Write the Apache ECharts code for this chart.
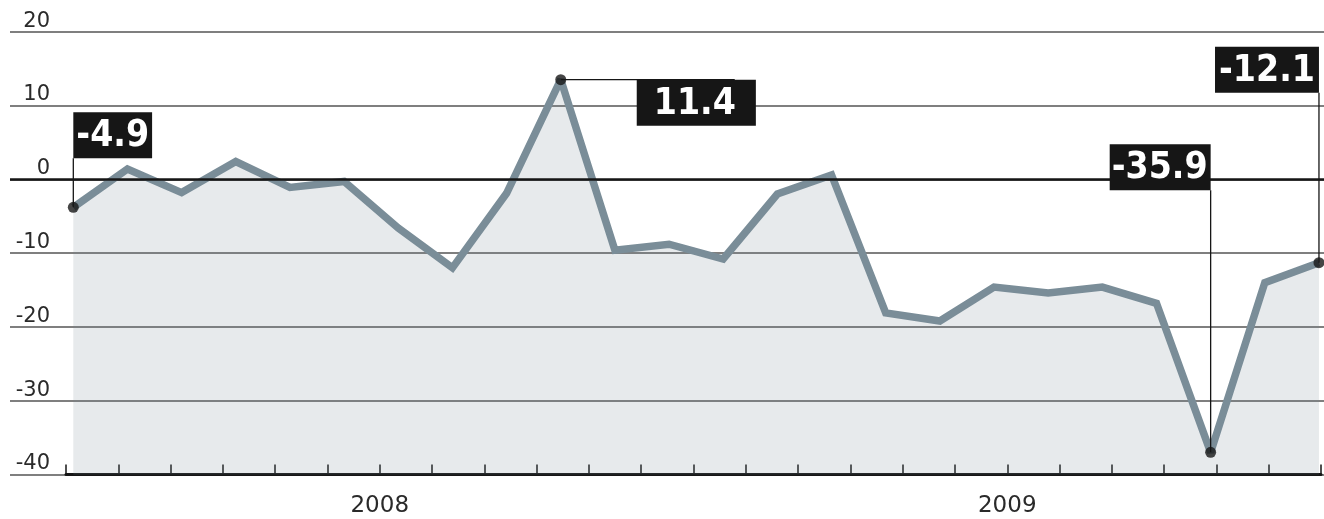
<!DOCTYPE html>
<html>
<head>
<meta charset="utf-8">
<script src="https://cdn.jsdelivr.net/npm/echarts@6/dist/echarts.min.js"></script>
<style>
  html, body { margin: 0; padding: 0; background: #fff; }
  #chart { width: 1324px; height: 519px; }
</style>
</head>
<body>
<div id="chart"></div>
<script>
// monthly values, Jan 2008 .. Dec 2009
const months = [
  '2008-01', '2008-02', '2008-03', '2008-04', '2008-05', '2008-06',
  '2008-07', '2008-08', '2008-09', '2008-10', '2008-11', '2008-12',
  '2009-01', '2009-02', '2009-03', '2009-04', '2009-05', '2009-06',
  '2009-07', '2009-08', '2009-09', '2009-10', '2009-11', '2009-12'
]
const values = [
  -3.8, 1.4, -1.8, 2.4, -1.1, -0.3, -6.6, -12.0, -1.9, 13.5, -9.6, -8.8,
  -10.8, -2.0, 0.6, -18.1, -19.2, -14.6, -15.4, -14.6, -16.8, -37.0, -14.0, -11.3
]
const yearLabels = ['2008', '2009']
const yearTickPos = [6, 18]
const yTicks = [-40, -30, -20, -10, 0, 10, 20]

// callouts: which point, and the printed figure
const calloutIndex = [0, 9, 21, 23]
const calloutText = ['-4.9', '11.4', '-35.9', '-12.1']

const lineColor = '#7a8d98'
const ink = '#161616'

const chart = echarts.init(document.getElementById('chart'))

const option = {
  animation: false,
  backgroundColor: '#fff',
  grid: [
    { left: 10, right: 0, top: 31.7, bottom: 44.5 },
    { left: 66, right: -4.4, top: 31.7, bottom: 44.5 }
  ],
  xAxis: [
    {
      type: 'value', gridIndex: 0, min: -1.169, max: 23.093,
      show: false
    },
    {
      type: 'value', gridIndex: 1, min: 0, max: 24, interval: 1,
      axisLine: { show: true, onZero: false, lineStyle: { color: ink, width: 3 } },
      axisTick: { show: true, inside: true, length: 10, lineStyle: { color: ink, width: 1.5 } },
      splitLine: { show: false },
      axisLabel: {
        show: true, margin: 20, fontSize: 23, color: '#2a2a2a',
        fontFamily: 'DejaVu Sans',
        formatter: v => {
          const k = yearTickPos.indexOf(v)
          return k >= 0 ? yearLabels[k] : ''
        }
      }
    }
  ],
  yAxis: [
    {
      type: 'value', gridIndex: 0, min: yTicks[0], max: yTicks[yTicks.length - 1], interval: 10,
      axisLine: { show: false },
      axisTick: { show: false },
      axisLabel: {
        inside: true, margin: 40, align: 'right', verticalAlign: 'bottom',
        padding: [0, 0, 0, 0],
        fontSize: 21, color: '#2a2a2a', fontFamily: 'DejaVu Sans'
      },
      splitLine: { show: true, lineStyle: { color: '#555', width: 1.5 } }
    },
    { type: 'value', gridIndex: 1, min: -40, max: 20, show: false }
  ],
  series: [
    {
      type: 'line',
      xAxisIndex: 0, yAxisIndex: 0,
      data: values.map((v, i) => [i, v]),
      symbol: 'none',
      lineStyle: { color: lineColor, width: 7.5, join: 'miter', miterLimit: 2 },
      areaStyle: { color: 'rgba(118,138,150,0.25)', origin: 'start' },
      markLine: {
        silent: true, symbol: 'none', label: { show: false },
        lineStyle: { color: ink, width: 2.5, type: 'solid' },
        data: [{ yAxis: 0 }]
      },
      z: 3
    },
    {
      type: 'scatter',
      xAxisIndex: 0, yAxisIndex: 0,
      data: calloutIndex.map(i => [i, values[i]]),
      symbolSize: 11,
      itemStyle: { color: ink },
      z: 6
    }
  ]
}

chart.setOption(option)

// callout boxes and leader lines, placed from the points' pixel positions
const boxFont = {
  fontSize: 37, fontWeight: 'bold', fontFamily: 'DejaVu Sans Condensed, DejaVu Sans',
  fill: '#fff', backgroundColor: ink
}
const g = []
calloutIndex.forEach((idx, k) => {
  const [px, py] = chart.convertToPixel({ xAxisIndex: 0, yAxisIndex: 0 }, [idx, values[idx]])
  let line, box
  if (k === 0) {
    line = [px, py, px, py - 49]
    box = { x: px, y: py - 49, align: 'left', verticalAlign: 'bottom', padding: [6, 3, 3, 3] }
  } else if (k === 1) {
    line = [px, py, px + 174, py]
    box = { x: px + 76, y: py, align: 'left', verticalAlign: 'top', padding: [6, 20, 3, 17] }
  } else if (k === 2) {
    line = [px, py, px, py - 262]
    box = { x: px, y: py - 262, align: 'right', verticalAlign: 'bottom', padding: [6, 3, 3, 2] }
  } else {
    line = [px, py, px, py - 170]
    box = { x: px, y: py - 170, align: 'right', verticalAlign: 'bottom', padding: [6, 4, 3, 4] }
  }
  g.push({
    type: 'line', z: 5,
    shape: { x1: line[0], y1: line[1], x2: line[2], y2: line[3] },
    style: { stroke: ink, lineWidth: 1.3 }
  })
  g.push({
    type: 'text', z: 7,
    x: box.x, y: box.y,
    style: Object.assign({
      text: calloutText[k], align: box.align, verticalAlign: box.verticalAlign, padding: box.padding
    }, boxFont)
  })
})
chart.setOption({ graphic: g })
</script>
</body>
</html>
